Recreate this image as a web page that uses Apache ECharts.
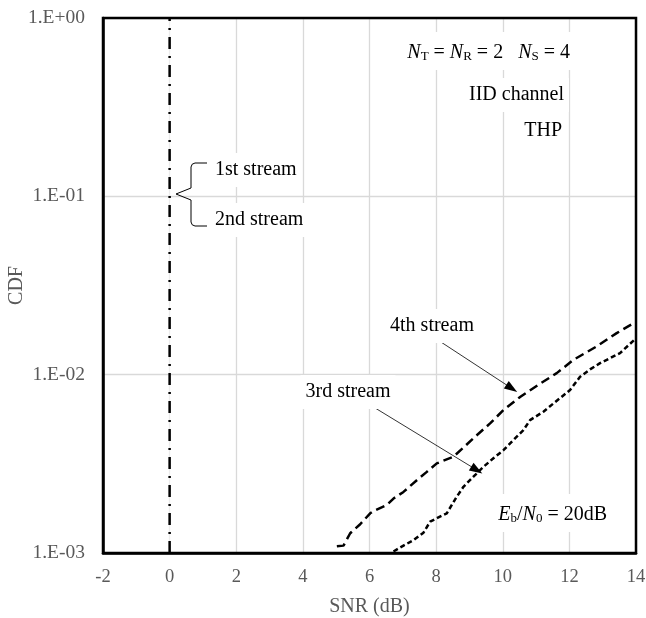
<!DOCTYPE html>
<html><head><meta charset="utf-8">
<script src="https://cdn.jsdelivr.net/npm/echarts@6/dist/echarts.min.js"></script>
<style>html,body{margin:0;padding:0;background:#fff}#c{width:646px;height:618px}</style>
</head><body><div id="c"></div>
<script>
// ---- data ----
const xTicks = [-2, 0, 2, 4, 6, 8, 10, 12, 14];
const yTicks = [0.001, 0.01, 0.1, 1];
const snr12 = [0, 0];
const cdf12 = [0.001, 1];
const snr4 = [5.02, 5.22, 5.42, 5.72, 6.02, 6.12, 6.52, 6.72, 7.02, 7.42, 7.72, 8.02, 8.52, 8.82, 9.12, 9.62, 10.02, 10.52, 11.12, 11.62, 12.12, 12.82, 13.42, 14.0];
const cdf4 = [1.09e-3, 1.1e-3, 1.29e-3, 1.45e-3, 1.67e-3, 1.72e-3, 1.86e-3, 2.02e-3, 2.2e-3, 2.56e-3, 2.85e-3, 3.18e-3, 3.47e-3, 3.9e-3, 4.4e-3, 5.33e-3, 6.33e-3, 7.5e-3, 8.9e-3, 1.02e-2, 1.21e-2, 1.44e-2, 1.71e-2, 1.98e-2];
const snr3 = [6.72, 7.02, 7.32, 7.62, 7.82, 8.32, 8.62, 8.82, 9.12, 9.42, 9.72, 10.02, 10.32, 10.62, 10.82, 11.22, 11.52, 12.02, 12.32, 12.62, 12.92, 13.52, 14.0];
const cdf3 = [1.02e-3, 1.1e-3, 1.18e-3, 1.3e-3, 1.5e-3, 1.67e-3, 2.07e-3, 2.35e-3, 2.68e-3, 3.04e-3, 3.4e-3, 3.77e-3, 4.3e-3, 4.89e-3, 5.56e-3, 6.2e-3, 6.89e-3, 8.2e-3, 9.73e-3, 1.07e-2, 1.16e-2, 1.32e-2, 1.6e-2];
// arrows: [start, tip]
const arrow4 = [[7.82, 1.67e-2], [10.27, 8.38e-3]];
const arrow3 = [[6.17, 6.5e-3], [9.22, 2.92e-3]];

const F = '"Liberation Serif", "Times New Roman", serif';
const zip = (a, b) => a.map((v, i) => [v, b[i]]);
function yFmt(v) {
  const e = Math.round(Math.log10(v));
  const s = e < 0 ? '-' : '+';
  const a = Math.abs(e);
  return '1.E' + s + (a < 10 ? '0' : '') + a;
}
const chart = echarts.init(document.getElementById('c'), null, {renderer: 'canvas'});
const PAD = 5;
const txt = (x, y, text, align, rich) => {
  const st = {
    text: text, x: 0, y: 0, align: align || 'left', verticalAlign: 'middle',
    font: '20px ' + F, fill: '#000', backgroundColor: '#fff', padding: [7, PAD, 7, PAD]
  };
  if (rich) st.rich = rich;
  return {type: 'text', x: x, y: y, z: 100, style: st};
};
const richN = {
  i: {fontFamily: F, fontSize: 20, fontStyle: 'italic', lineHeight: 24, verticalAlign: 'bottom'},
  n: {fontFamily: F, fontSize: 20, lineHeight: 24, verticalAlign: 'bottom'},
  s: {fontFamily: F, fontSize: 13, lineHeight: 10, verticalAlign: 'bottom'}
};
const G = '#d9d9d9';
chart.setOption({
  animation: false,
  grid: {left: 103, right: 10, top: 18, bottom: 65, containLabel: false, outerBoundsMode: 'none',
         show: true, borderColor: '#000', borderWidth: 0, backgroundColor: '#fff'},
  xAxis: {
    type: 'value', min: -2, max: 14, interval: 2,
    name: 'SNR (dB)', nameLocation: 'middle', nameGap: 44, nameMoveOverlap: false,
    nameTextStyle: {fontFamily: F, fontSize: 20, color: '#595959'},
    axisLine: {show: true, onZero: false, lineStyle: {color: '#000', width: 2.5}},
    axisTick: {show: false},
    axisLabel: {fontFamily: F, fontSize: 18.5, color: '#595959', margin: 15, formatter: v => xTicks.includes(v) ? String(v) : ''},
    splitLine: {show: true, lineStyle: {color: [G, '#ececec', G, G, G, G, G, G, G], width: 1.3}}
  },
  yAxis: {
    type: 'log', logBase: 10, min: yTicks[0], max: yTicks[yTicks.length - 1],
    name: 'CDF', nameLocation: 'middle', nameGap: 76, nameRotate: 90, nameMoveOverlap: false,
    nameTextStyle: {fontFamily: F, fontSize: 20, color: '#595959'},
    axisLine: {show: true, onZero: false, lineStyle: {color: '#000', width: 2.5}},
    axisTick: {show: false},
    axisLabel: {fontFamily: F, fontSize: 19.5, color: '#595959', margin: 18, formatter: yFmt},
    splitLine: {show: true, lineStyle: {color: G, width: 1.3}}
  },
  series: [
    {type: 'line', name: '1st/2nd stream', data: zip(snr12, cdf12), showSymbol: false, z: 5,
     lineStyle: {color: '#000', width: 2.5, type: [12, 7, 2, 7], cap: 'butt'}},
    {type: 'line', name: '4th stream', data: zip(snr4, cdf4), showSymbol: false, z: 5,
     lineStyle: {color: '#000', width: 2.5, type: [9, 5]},
     markLine: {silent: true, symbol: ['none', 'triangle'], symbolSize: [9, 13], label: {show: false},
       lineStyle: {color: '#000', width: 0.8, type: 'solid'},
       data: [[{coord: arrow4[0]}, {coord: arrow4[1]}], [{coord: arrow3[0]}, {coord: arrow3[1]}]]}},
    {type: 'line', name: '3rd stream', data: zip(snr3, cdf3), showSymbol: false, z: 5,
     lineStyle: {color: '#000', width: 2.5, type: [5, 3]}}
  ],
  graphic: [
    txt(570 + PAD, 51, '{i|N}{s|T}{n| = }{i|N}{s|R}{n| = 2   }{i|N}{s|S}{n| = 4}', 'right', richN),
    txt(564 + PAD, 95, 'IID channel', 'right'),
    txt(562 + PAD, 131, 'THP', 'right'),
    txt(215 - PAD, 170, '1st stream', 'left'),
    txt(215 - PAD, 220, '2nd stream', 'left'),
    txt(432, 326, '4th stream', 'center'),
    txt(348, 392, '3rd stream', 'center'),
    txt(607 + PAD, 513, '{i|E}{s|b}{n|/}{i|N}{s|0}{n| = 20dB}', 'right', richN),
    {type: 'polyline', z: 100,
     shape: {points: [[207,163],[195,163],[192.2,164.2],[191,167],[191,188],[176,194],[191,200],[191,222],[192.2,224.8],[195,226],[207,226]]},
     style: {stroke: '#000', lineWidth: 1, fill: null}},
    {type: 'rect', z: 90, shape: {x: 103, y: 18, width: 533, height: 535},
     style: {stroke: '#000', lineWidth: 2.5, fill: null}}
  ]
});
</script></body></html>
